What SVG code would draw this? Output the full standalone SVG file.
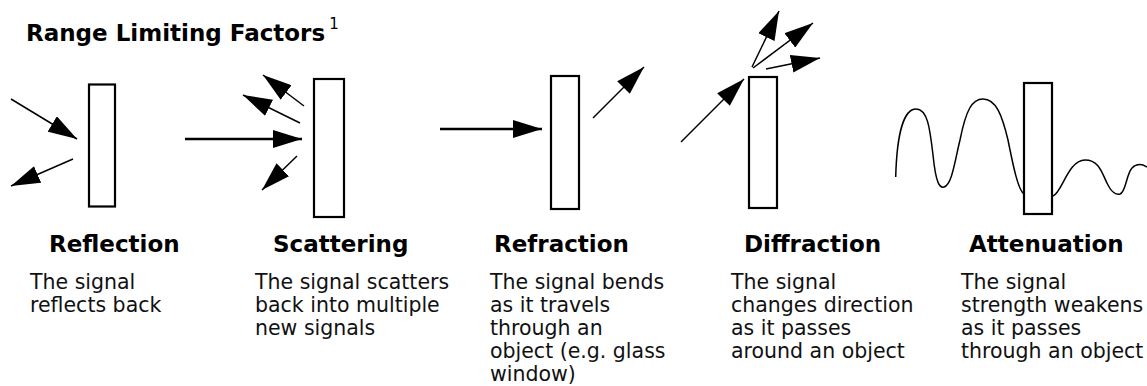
<svg xmlns="http://www.w3.org/2000/svg" width="1147" height="386" viewBox="0 0 1147 386">
<style>
.title{font-family:"DejaVu Sans","Liberation Sans",sans-serif;font-weight:bold;font-size:23px;fill:#000}
.sup{font-family:"DejaVu Sans","Liberation Sans",sans-serif;font-weight:normal;font-size:15px;fill:#000}
.head{font-family:"DejaVu Sans","Liberation Sans",sans-serif;font-weight:bold;font-size:23px;fill:#000}
.body{font-family:"DejaVu Sans","Liberation Sans",sans-serif;font-size:20.5px;fill:#111}
.obj{fill:#fff;stroke:#000;stroke-width:2.2}
.ray{stroke:#000;stroke-width:1.5;fill:none;marker-end:url(#ah)}
.ray2{stroke:#000;stroke-width:2.6;fill:none;marker-end:url(#ah)}
.wave{stroke:#000;stroke-width:1.5;fill:none}
</style>
<defs>
<marker id="ah" markerUnits="userSpaceOnUse" markerWidth="30" markerHeight="18" refX="29" refY="9" orient="auto" viewBox="0 0 30 18">
<path d="M0,0 L29,9 L0,18 Z" fill="#000"/>
</marker>
</defs>
<rect width="1147" height="386" fill="#fff"/>
<text class="title" x="26" y="41">Range Limiting Factors<tspan class="sup" dy="-12" dx="4">1</tspan></text>

<g id="reflection">
<rect class="obj" x="89" y="84.5" width="26" height="122"/>
<text class="head" x="49" y="252">Reflection</text>
<text class="body" x="30" y="289">The signal</text>
<text class="body" x="30" y="312">reflects back</text>
</g>
<g id="scattering">
<rect class="obj" x="314" y="79" width="30" height="138"/>
<text class="head" x="273" y="252">Scattering</text>
<text class="body" x="255" y="289">The signal scatters</text>
<text class="body" x="255" y="312">back into multiple</text>
<text class="body" x="255" y="335">new signals</text>
</g>
<g id="refraction">
<rect class="obj" x="551" y="76" width="28" height="133"/>
<text class="head" x="494" y="252">Refraction</text>
<text class="body" x="490" y="289">The signal bends</text>
<text class="body" x="490" y="312">as it travels</text>
<text class="body" x="490" y="335">through an</text>
<text class="body" x="490" y="358">object (e.g. glass</text>
<text class="body" x="490" y="381">window)</text>
</g>
<g id="diffraction">
<rect class="obj" x="749" y="77" width="28" height="131"/>
<text class="head" x="744" y="252">Diffraction</text>
<text class="body" x="731" y="289">The signal</text>
<text class="body" x="731" y="312">changes direction</text>
<text class="body" x="731" y="335">as it passes</text>
<text class="body" x="731" y="358">around an object</text>
</g>
<g id="attenuation">
<path class="wave" d="M895.7,177 C897,130 905,109 916,109 C928,109 930,130 933,155 C936,185 940,188 944,187 C952,185 955,160 960,140 C966,110 972,99 983,99 C996,99 1002,115 1008,140 C1013,165 1018,190 1024,194"/>
<path class="wave" d="M1053,196 C1062,193 1068,160 1085,160 C1100,160 1102,174 1108,185 C1112,193 1116,195 1120,194 C1126,192 1126,175 1132,168 C1137,163 1142,164 1147,167"/>
<rect class="obj" x="1024" y="83" width="28" height="131"/>
<text class="head" x="969" y="252">Attenuation</text>
<text class="body" x="961" y="289">The signal</text>
<text class="body" x="961" y="312">strength weakens</text>
<text class="body" x="961" y="335">as it passes</text>
<text class="body" x="961" y="358">through an object</text>
</g>

<g id="connectors">
<line class="ray" x1="11" y1="99" x2="77" y2="139"/>
<line class="ray" x1="73" y1="159" x2="11" y2="186"/>
<line class="ray2" x1="185" y1="139" x2="302" y2="139"/>
<line class="ray" x1="304" y1="106" x2="263" y2="75"/>
<line class="ray" x1="300" y1="123" x2="243" y2="95"/>
<line class="ray" x1="297" y1="156" x2="262" y2="190"/>
<line class="ray2" x1="440" y1="129" x2="542" y2="129"/>
<line class="ray" x1="593" y1="118" x2="644" y2="67"/>
<line class="ray" x1="681" y1="142" x2="744" y2="79"/>
<line class="ray" x1="752" y1="67" x2="779" y2="11"/>
<line class="ray" x1="753" y1="68" x2="813" y2="23"/>
<line class="ray" x1="766" y1="69" x2="820" y2="58"/>
</g>
</svg>
